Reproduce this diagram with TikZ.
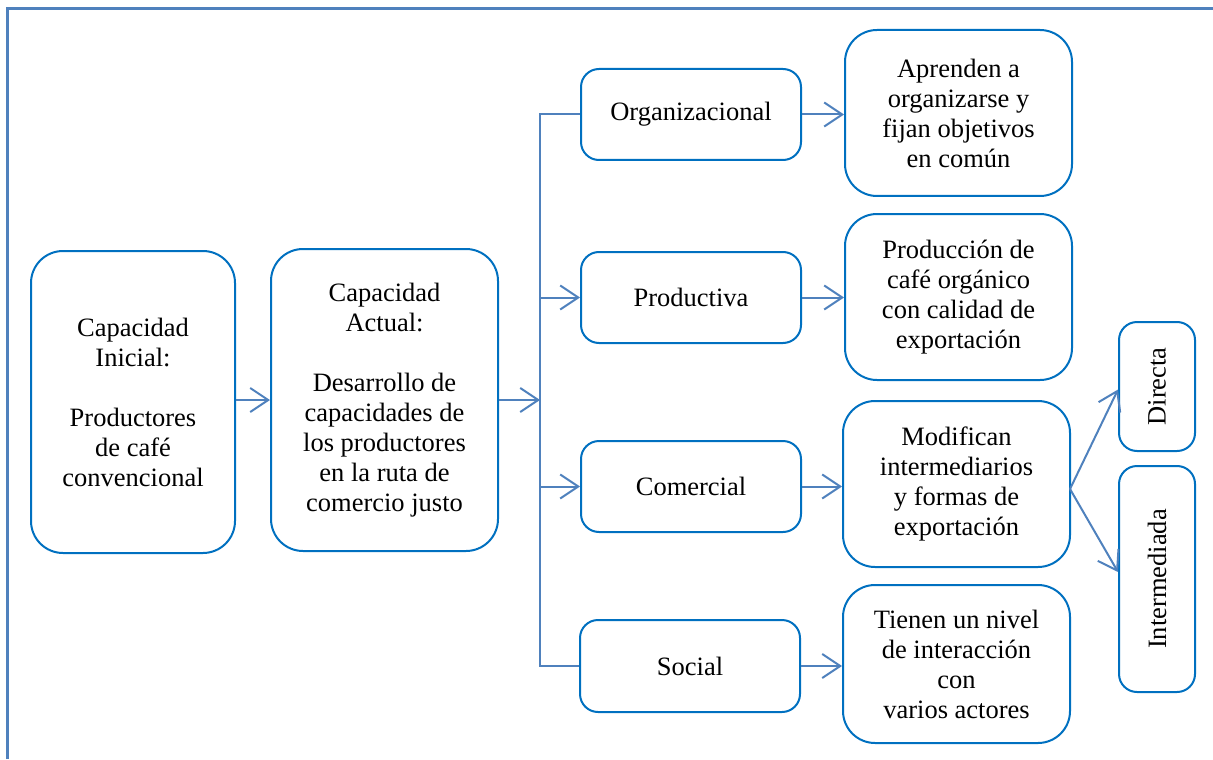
\documentclass[tikz,border=0pt]{standalone}
\usepackage{fontspec}
\setmainfont{Liberation Serif}
\usetikzlibrary{arrows.meta,calc}
\definecolor{boxblue}{HTML}{0070C0}
\definecolor{arrblue}{HTML}{4F81BD}
\begin{document}
\begin{tikzpicture}[x=0.5pt,y=-0.5pt,
  box/.style={draw=boxblue,line width=1pt,align=center,inner sep=2pt,
    font=\fontsize{13.25}{15}\selectfont},
  bigbox/.style={box,rounded corners=16pt},
  smallbox/.style={box,rounded corners=9pt},
  conn/.style={draw=arrblue,line width=1pt},
  arr/.style={conn,-{Straight Barb[length=9pt,width=12pt,line width=1pt]}},
  frame/.style={draw=arrblue,line width=1.6pt}]
\useasboundingbox (0,0) rectangle (1213,759);
\draw[frame] (7.5,759) -- (7.5,8.5) -- (1213,8.5);

\node[bigbox,minimum width=102pt,minimum height=151pt] (ini) at (133,402)
  {Capacidad\\Inicial:\\[15pt]Productores\\de café\\convencional};
\node[bigbox,minimum width=113.5pt,minimum height=151pt] (act) at (384.5,400)
  {Capacidad\\Actual:\\[15pt]Desarrollo de\\capacidades de\\los productores\\en la ruta de\\comercio justo};

\node[smallbox,minimum width=110pt,minimum height=45.5pt] (org) at (691,114.5) {\raisebox{-2pt}{Organizacional}};
\node[smallbox,minimum width=110pt,minimum height=45.5pt] (pro) at (691,297.5) {\raisebox{-2pt}{Productiva}};
\node[smallbox,minimum width=110pt,minimum height=45.5pt] (com) at (691,486.5) {\raisebox{-2pt}{Comercial}};
\node[smallbox,minimum width=110pt,minimum height=46pt] (soc) at (690,666) {\raisebox{-2pt}{Social}};

\node[bigbox,minimum width=113.5pt,minimum height=83pt] (apr) at (958.5,113)
  {Aprenden a\\organizarse y\\fijan objetivos\\en común};
\node[bigbox,minimum width=113.5pt,minimum height=83pt] (prc) at (958.5,297)
  {Producción de\\café orgánico\\con calidad de\\exportación};
\node[bigbox,minimum width=113.5pt,minimum height=83pt] (mod) at (956.5,484)
  {Modifican\\intermediarios\\y formas de\\exportación};
\node[bigbox,minimum width=113.5pt,minimum height=79pt] (tie) at (956.5,664)
  {Tienen un nivel\\de interacción\\con\\varios actores};

\node[smallbox,minimum width=38pt,minimum height=64.5pt] (dir) at (1157,386.5)
  {\rotatebox{90}{Directa}};
\node[smallbox,minimum width=38pt,minimum height=113pt] (int) at (1157,579)
  {\rotatebox{90}{Intermediada}};

\coordinate (tr) at (540,400);
\draw[arr] (ini.east |- act.west) -- (act.west);
\draw[arr] (act.east) -- (tr);
\draw[conn] (org.west) -- (org.west -| tr) -- (soc.west -| tr) -- (soc.west);
\draw[arr] (pro.west -| tr) -- (pro.west);
\draw[arr] (com.west -| tr) -- (com.west);

\draw[arr] (org.east) -- (org.east -| apr.west);
\draw[arr] (pro.east) -- (pro.east -| prc.west);
\draw[arr] (com.east) -- (com.east -| mod.west);
\draw[arr] (soc.east) -- (soc.east -| tie.west);

\coordinate (ms) at (1070,489);
\draw[arr] (ms) -- ($(dir.west)+(0,3)$);
\draw[arr] (ms) -- ($(int.west)+(0,-7)$);
\end{tikzpicture}
\end{document}
